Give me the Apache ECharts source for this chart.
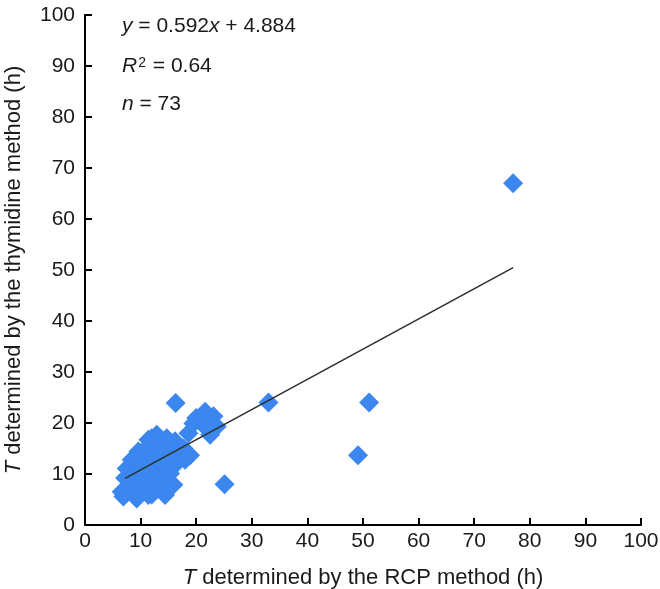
<!DOCTYPE html>
<html><head><meta charset="utf-8">
<script src="https://cdn.jsdelivr.net/npm/echarts@6/dist/echarts.min.js"></script>
<style>html,body{margin:0;padding:0;background:#fff}#c{width:660px;height:589px}</style>
</head><body><div id="c"></div>
<script>
// Tick labels
const xTicks = [0,10,20,30,40,50,60,70,80,90,100];
const yTicks = [0,10,20,30,40,50,60,70,80,90,100];
// T determined by the RCP method (h)
const rcpT = [
  12.9,11.4,14.7,16.2,17.7,18.9,18.0,
  9.6,11.7,13.8,15.6,17.1,8.4,10.5,12.6,14.7,16.2,7.5,9.6,11.7,13.8,15.3,
  7.2,9.0,11.1,13.2,15.0,15.9,
  6.6,8.4,10.2,12.3,14.1,6.9,9.3,11.4,14.4,
  21.6,23.1,19.5,21.3,23.7,18.6,22.5,
  16.3,25.1,33.0,49.1,51.1,77.0,
  10,12,13,11,9,14,12,10,8,13,15,11,12,14,16,9,10,13,12,15,11,20,22
];
// T determined by the thymidine method (h)
const thyT = [
  17.7,16.7,17.0,16.4,15.0,13.7,12.8,
  14.4,14.7,15.0,14.4,13.4,12.8,13.1,13.4,12.8,11.8,11.1,11.1,11.4,11.1,10.1,
  9.2,9.5,9.5,9.2,8.5,7.9,
  6.5,7.2,7.5,7.2,6.9,5.6,5.2,5.9,5.9,
  22.2,21.3,19.9,19.6,19.3,18.0,17.7,
  23.9,8.0,24.0,13.7,24.0,67.0,
  10,12,16,8,6,10,10,12,9,13,16,15,17,14,13,8,7,8,6,12,11,21,20
];
// Regression fit
const fitSlope = 0.592;
const fitIntercept = 4.884;
const fitXRange = [7.2, 77.0];

const FONT = 'Liberation Sans, Arial, Helvetica, sans-serif';
const TXT = '#1a1a1a';
const points = rcpT.map((x, i) => [x, thyT[i]]);
const fitLine = fitXRange.map(x => [x, fitSlope * x + fitIntercept]);

const chart = echarts.init(document.getElementById('c'), null, {renderer: 'canvas'});
const axisCommon = {
  type: 'value', min: 0, max: 100, interval: 10,
  axisLine: {show: true, lineStyle: {color: '#000', width: 2}},
  axisTick: {show: true, inside: true, length: 7, lineStyle: {color: '#000', width: 2}},
  splitLine: {show: false},
  nameLocation: 'middle',
  nameTextStyle: {fontSize: 22, color: TXT, fontFamily: FONT,
    rich: {i: {fontStyle: 'italic', fontSize: 22, color: TXT, fontFamily: FONT}}}
};
const eqRich = {
  i: {fontStyle: 'italic', fontSize: 21, fill: TXT, fontFamily: FONT},
  sup: {fontSize: 14, fill: TXT, fontFamily: FONT, verticalAlign: 'top', padding: [0, 1, 0, 1]}
};
chart.setOption({
  animation: false,
  backgroundColor: '#fff',
  grid: {left: 85, right: 19, top: 15, bottom: 64, containLabel: false, outerBoundsMode: 'none'},
  xAxis: Object.assign({}, axisCommon, {
    name: '{i|T} determined by the RCP method (h)',
    nameGap: 42,
    axisLabel: {fontSize: 21, color: TXT, fontFamily: FONT, margin: 6,
      formatter: v => xTicks.includes(v) ? String(v) : ''}
  }),
  yAxis: Object.assign({}, axisCommon, {
    name: '{i|T} determined by the thymidine method (h)',
    nameGap: 60,
    axisLabel: {fontSize: 21, color: TXT, fontFamily: FONT, margin: 10,
      formatter: v => yTicks.includes(v) ? String(v) : ''}
  }),
  series: [
    {type: 'scatter', data: points, symbol: 'diamond', symbolSize: 20,
     itemStyle: {color: '#3b86ef', opacity: 1}, z: 2},
    {type: 'line', data: fitLine, symbol: 'none', showSymbol: false,
     lineStyle: {color: '#2a312c', width: 1.6}, z: 3}
  ],
  graphic: [
    {type: 'text', left: 122, top: 16, style: {text: '{i|y} = 0.592{i|x} + 4.884', fontSize: 21, fill: TXT, fontFamily: FONT, rich: eqRich}},
    {type: 'text', left: 122, top: 56, style: {text: '{i|R}{sup|2} = 0.64', fontSize: 21, fill: TXT, fontFamily: FONT, rich: eqRich}},
    {type: 'text', left: 122, top: 94, style: {text: '{i|n} = 73', fontSize: 21, fill: TXT, fontFamily: FONT, rich: eqRich}}
  ]
});
</script>
</body></html>
